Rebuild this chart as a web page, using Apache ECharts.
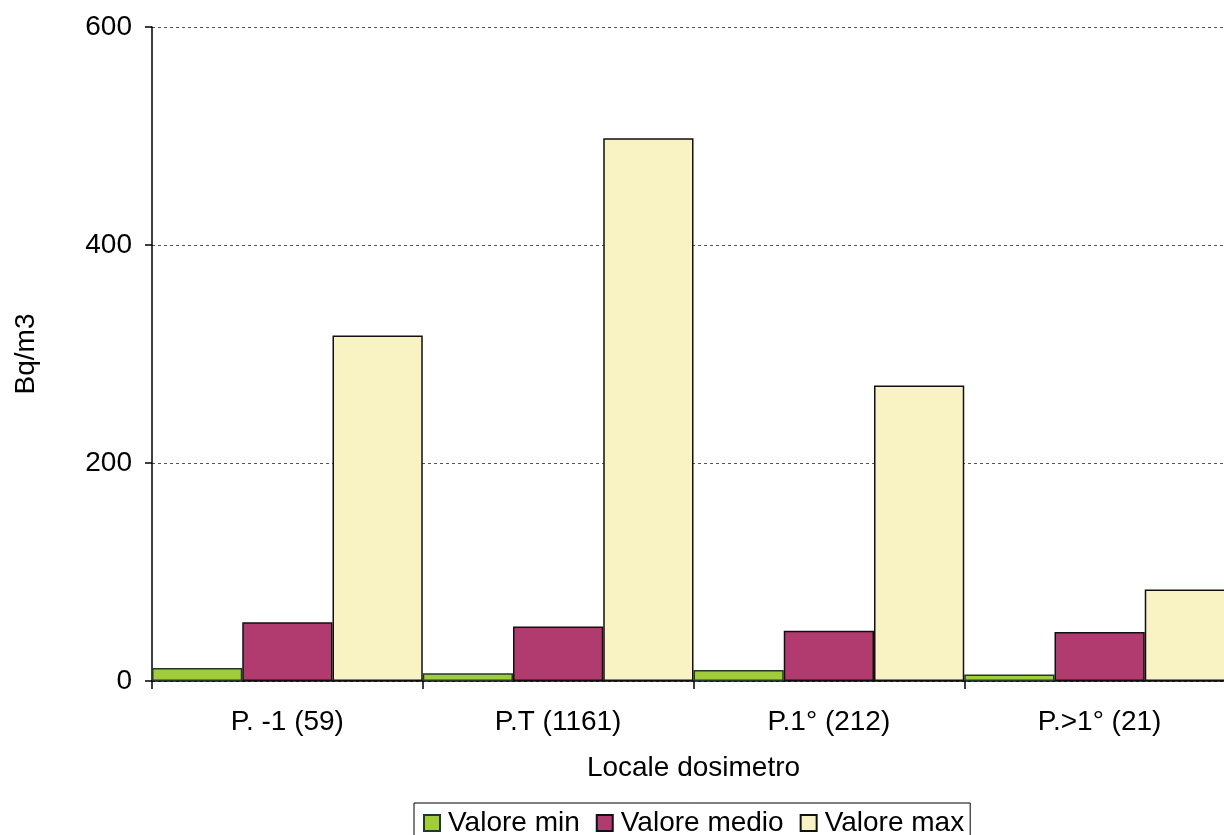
<!DOCTYPE html>
<html>
<head>
<meta charset="utf-8">
<script src="https://cdn.jsdelivr.net/npm/echarts@6/dist/echarts.min.js"></script>
<style>
  html, body { margin: 0; padding: 0; background: #fff; overflow: hidden; }
  /* the plot runs slightly past the right edge of the page */
  #chart { width: 1235px; height: 835px; }
</style>
</head>
<body>
<div id="chart"></div>
<script>
// Radon concentration by dosimeter floor (number of dosimeters in brackets)
const categories = ['P. -1 (59)', 'P.T (1161)', 'P.1° (212)', 'P.>1° (21)'];
const valoreMin = [12, 7, 10, 6];
const valoreMedio = [54, 50, 46, 45];
const valoreMax = [317, 498, 271, 84];
const yTicks = [0, 200, 400, 600];

const FONT = '"Liberation Sans", Arial, sans-serif';
const FS = 28;
const barBorder = { borderColor: '#111', borderWidth: 1.5 };

const chart = echarts.init(document.getElementById('chart'), null, { renderer: 'canvas' });
chart.setOption({
  animation: false,
  backgroundColor: '#ffffff',
  textStyle: { fontFamily: FONT, color: '#000' },
  grid: { left: 152, right: 0, top: 27, bottom: 154, containLabel: false },
  xAxis: {
    type: 'category',
    data: categories,
    name: 'Locale dosimetro',
    nameLocation: 'middle',
    nameGap: 73,
    nameTextStyle: { fontFamily: FONT, fontSize: FS, color: '#000' },
    axisLine: { show: true, lineStyle: { color: '#000', width: 1.5 } },
    axisTick: { show: true, alignWithLabel: false, length: 8, lineStyle: { color: '#000', width: 1.5 } },
    axisLabel: { fontFamily: FONT, fontSize: FS, color: '#000', margin: 27 },
    splitLine: { show: false }
  },
  yAxis: {
    type: 'value',
    min: yTicks[0],
    max: yTicks[yTicks.length - 1],
    interval: 200,
    name: 'Bq/m3',
    nameLocation: 'middle',
    nameGap: 112,
    nameRotate: 90,
    nameTextStyle: { fontFamily: FONT, fontSize: FS, color: '#000' },
    axisLine: { show: true, lineStyle: { color: '#000', width: 1.5 } },
    axisTick: { show: true, length: 7, lineStyle: { color: '#000', width: 1.5 } },
    axisLabel: { fontFamily: FONT, fontSize: FS, color: '#000', margin: 20 },
    splitLine: { show: true, lineStyle: { color: '#555', width: 1, type: [3, 3] } }
  },
  legend: {
    left: 414,
    top: 803,
    orient: 'horizontal',
    itemWidth: 16,
    itemHeight: 16,
    itemGap: 16,
    padding: [6, 6, 4, 9],
    borderColor: '#000',
    borderWidth: 1,
    icon: 'rect',
    textStyle: { fontFamily: FONT, fontSize: FS, color: '#000', padding: [0, 0, 0, 3] },
    data: ['Valore min', 'Valore medio', 'Valore max']
  },
  series: [
    {
      name: 'Valore min', type: 'bar', data: valoreMin,
      barGap: '0%', barCategoryGap: '0%',
      itemStyle: Object.assign({ color: '#a3cc3a' }, barBorder, { borderColor: '#1f3a2a' })
    },
    {
      name: 'Valore medio', type: 'bar', data: valoreMedio,
      barGap: '0%', barCategoryGap: '0%',
      itemStyle: Object.assign({ color: '#b13a6e' }, barBorder)
    },
    {
      name: 'Valore max', type: 'bar', data: valoreMax,
      barGap: '0%', barCategoryGap: '0%',
      itemStyle: Object.assign({ color: '#f9f3c4' }, barBorder)
    }
  ]
});
</script>
</body>
</html>
